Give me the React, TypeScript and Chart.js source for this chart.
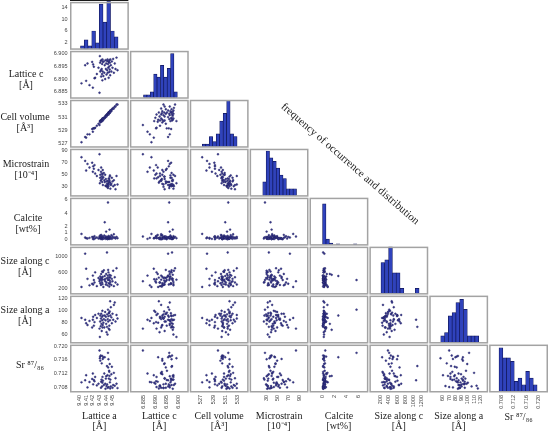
import React, { useEffect, useRef } from 'react';
import { Chart, registerables } from 'chart.js';

Chart.register(...registerables);

// ---- sample values (63 samples) ----
const LATTICE_A = [9.4030, 9.4085, 9.4100, 9.4120, 9.4150, 9.4190, 9.4200, 9.4205, 9.4215, 9.4225, 9.4235, 9.4260, 9.4285,
  9.4300, 9.4305, 9.4310, 9.4312, 9.4318, 9.4322, 9.4325, 9.4330, 9.4333, 9.4338, 9.4340, 9.4343, 9.4345, 9.4348, 9.4351,
  9.4358, 9.4365, 9.4372, 9.4378, 9.4385, 9.4390, 9.4395, 9.4400, 9.4405,
  9.4412, 9.4415, 9.4420, 9.4423, 9.4427, 9.4430, 9.4434, 9.4437, 9.4440, 9.4444, 9.4447, 9.4450, 9.4453, 9.4456, 9.4460, 9.4463,
  9.4470, 9.4478, 9.4485, 9.4495, 9.4505, 9.4515, 9.4528, 9.4540, 9.4555, 9.4570];

const LATTICE_C = [6.8883, 6.8955, 6.8893, 6.8962, 6.8876, 6.8968, 6.8866, 6.8958, 6.8949, 6.8903, 6.8905, 6.8920, 6.8945,
  6.8846, 6.8991, 6.8965, 6.8930, 6.8972, 6.8935, 6.8910, 6.8975, 6.8940, 6.8920, 6.8960, 6.8895, 6.8978, 6.8930, 6.8968,
  6.8912, 6.8970, 6.8925, 6.8955, 6.8900, 6.8975, 6.8940, 6.8962, 6.8918,
  6.8972, 6.8935, 6.8978, 6.8925, 6.8960, 6.8945, 6.8970, 6.8905, 6.8967, 6.8950, 6.8928, 6.8975, 6.8938, 6.8965, 6.8915, 6.8978,
  6.8955, 6.8930, 6.8970, 6.8945, 6.8980, 6.8925, 6.8962, 6.8940, 6.8985, 6.8935];

const CELL_VOLUME = [527.2, 528.0, 527.9, 528.4, 528.4, 529.2, 528.8, 529.3, 529.3, 529.3, 529.4, 529.7, 530.0,
  529.8, 530.4, 530.4, 530.2, 530.5, 530.4, 530.3, 530.6, 530.5, 530.5, 530.7, 530.4, 530.8, 530.6, 530.8,
  530.6, 530.9, 530.8, 531.0, 530.9, 531.2, 531.1, 531.3, 531.1,
  531.4, 531.3, 531.5, 531.4, 531.5, 531.5, 531.7, 531.4, 531.7, 531.7, 531.6, 531.8, 531.7, 531.9, 531.7, 532.0,
  532.0, 531.9, 532.2, 532.2, 532.4, 532.3, 532.6, 532.6, 532.9, 532.9];

const MICROSTRAIN = [79, 73, 57, 68, 62, 70, 55, 64, 60, 66, 52, 48, 58,
  84, 36, 45, 50, 40, 55, 62, 42, 47, 52, 38, 44, 50, 58, 33,
  46, 53, 41, 38, 50, 32, 43, 31, 39,
  35, 30, 33, 40, 28, 36, 31, 44, 34, 38, 43, 40, 47, 49, 37, 27,
  33, 35, 45, 39, 31, 41, 33, 26, 48, 34];

const CALCITE = [0.85, 0.30, 0.20, 0.15, 0.25, 0.40, 0.10, 0.35, 0.05, 0.50, 0.20, 0.30, 0.15,
  0.45, 0.20, 0.60, 0.30, 0.10, 0.25, 0.70, 0.15, 0.40, 0.05, 0.30, 0.20, 0.50, 0.10, 0.35,
  0.25, 0.15, 0.60, 2.60, 0.30, 0.10, 0.45, 1.20, 0.20,
  0.10, 0.40, 0.25, 0.05, 5.60, 0.30, 0.15, 0.55, 0.20, 0.35, 0.10, 1.50, 0.25, 0.40, 0.15, 0.30,
  0.20, 0.65, 0.10, 0.45, 0.25, 0.80, 0.30, 0.15, 0.40, 0.20];

const SIZE_C = [240, 1060, 690, 440, 280, 320, 520, 300, 410, 350, 600, 260, 460,
  380, 420, 500, 330, 450, 290, 560, 400, 470, 350, 620, 430, 310, 490, 610,
  240, 650, 420, 510, 380, 440, 300, 560, 350,
  1090, 460, 280, 520, 410, 660, 600, 430, 330, 480, 250, 540, 400, 310, 470, 360,
  520, 290, 440, 380, 640, 260, 480, 350, 700, 300];

const SIZE_A = [88, 85, 79, 76, 83, 72, 85, 90, 75, 81, 93, 88, 95,
  70, 56, 82, 92, 74, 87, 95, 78, 66, 90, 84, 100, 72, 76, 92,
  80, 86, 72, 92, 98, 84, 90, 78, 64,
  73, 94, 60, 86, 102, 82, 91, 70, 96, 97, 75, 68, 99, 84, 116, 92,
  106, 89, 79, 95, 85, 110, 114, 82, 93, 87];

const SR_RATIO = [0.7094, 0.7100, 0.7115, 0.7079, 0.7095, 0.7104, 0.7120, 0.7088, 0.7101, 0.7097, 0.7110, 0.7085, 0.7090,
  0.7188, 0.7165, 0.7170, 0.7158, 0.7173, 0.7078, 0.7096, 0.7102, 0.7150, 0.7082, 0.7172, 0.7093, 0.7110, 0.7163, 0.7099,
  0.7168, 0.7086, 0.7120, 0.7168, 0.7090, 0.7075, 0.7105, 0.7112, 0.7083,
  0.7142, 0.7088, 0.7115, 0.7078, 0.7181, 0.7138, 0.7162, 0.7080, 0.7105, 0.7128, 0.7125, 0.7113, 0.7148, 0.7094, 0.7076, 0.7102,
  0.7082, 0.7118, 0.7140, 0.7078, 0.7086, 0.7122, 0.7084, 0.7106, 0.7090, 0.7077];

// ---- histograms (diagonal) ----
const HIST_LATTICE_A = [1, 3, 1, 6, 2, 15, 9, 16, 6, 4];
const HIST_LATTICE_C = [1, 1, 2, 8, 7, 11, 7, 10, 15, 2];
const HIST_CELL_VOLUME = [1, 1, 4, 2, 5, 10, 13, 18, 5, 4];
const HIST_MICROSTRAIN = [4, 13, 11, 10, 8, 6, 5, 2, 2, 2];
const HIST_CALCITE = [52, 7, 2, 0, 1, 0, 0, 0, 0, 1];
const HIST_SIZE_C = [12, 13, 18, 8, 8, 2, 0, 0, 0, 2];
const HIST_SIZE_A = [2, 3, 8, 9, 12, 13, 10, 2, 2, 2];
const HIST_SR = [13, 10, 10, 9, 3, 4, 2, 6, 4, 2];
const HIST_BIN_START = [9.4015, 6.88487, 527.22, 24.0, 0, 212, 56.4, 0.70719];
const HIST_BIN_END = [9.4578, 6.89949, 532.95, 85.0, 5.66, 1132, 117.4, 0.71944];
const HIST_COUNT_MAX = [15.95, 16.1, 18.5, 13.8, 60.6, 18.3, 14.27, 14.13];

// ---- axes ----
const AXIS_MIN = [9.3925, 6.8820, 526.3, 12.9, -1.0, 40, 44, 0.70625];
const AXIS_MAX = [9.4673, 6.9014, 533.7, 94.0, 6.4, 1245, 126.5, 0.7207];
const X_TICKS = [
  [9.40, 9.41, 9.42, 9.43, 9.44, 9.45],
  [6.885, 6.890, 6.895, 6.900],
  [527, 529, 531, 533],
  [30, 50, 70, 90],
  [0, 2, 4, 6],
  [200, 400, 600, 800, 1000, 1200],
  [60, 70, 80, 90, 100, 110, 120],
  [0.708, 0.712, 0.716, 0.720],
];
const Y_TICKS = [
  [2, 6, 10, 14],
  [6.885, 6.890, 6.895, 6.900],
  [527, 529, 531, 533],
  [30, 50, 70, 90],
  [0, 1, 2, 4, 6],
  [200, 600, 1000],
  [60, 80, 100, 120],
  [0.708, 0.712, 0.716, 0.720],
];
const TICK_DECIMALS = [2, 3, 0, 0, 0, 0, 0, 3];
const VAR_LABELS = [
  ['Lattice a', '[Å]'],
  ['Lattice c', '[Å]'],
  ['Cell volume', '[Å³]'],
  ['Microstrain', '[10⁻⁴]'],
  ['Calcite', '[wt%]'],
  ['Size along c', '[Å]'],
  ['Size along a', '[Å]'],
  ['Sr ⁸⁷/₈₆'],
];
const DIAGONAL_TITLE = 'frequency of occurrence and distribution';

// layout constants (not data)
const ROW_LABEL_Y = [0, 74, 117, 164, 218, 261, 310, 365];
const ROW_LABEL_X = [0, 26, 25, 26, 28, 25, 25, 30];

export default function App() {
  const ref = useRef<HTMLCanvasElement>(null);

  useEffect(() => {
    const N = 8;
    const vars = [LATTICE_A, LATTICE_C, CELL_VOLUME, MICROSTRAIN, CALCITE, SIZE_C, SIZE_A, SR_RATIO];
    const hists = [HIST_LATTICE_A, HIST_LATTICE_C, HIST_CELL_VOLUME, HIST_MICROSTRAIN, HIST_CALCITE, HIST_SIZE_C, HIST_SIZE_A, HIST_SR];
    const tickFont = { family: 'Liberation Sans', size: 5.5 };

    const scales: any = {};
    for (let j = 0; j < N; j++) {
      scales['x' + j] = {
        type: 'linear',
        position: 'bottom',
        stack: 'cols',
        stackWeight: 1,
        weight: j,
        min: AXIS_MIN[j],
        max: AXIS_MAX[j],
        afterBuildTicks: (s: any) => { s.ticks = X_TICKS[j].map((v) => ({ value: v })); },
        afterFit: (s: any) => { s.height = 39; s.paddingLeft = 0; s.paddingRight = 0; },
        ticks: {
          autoSkip: false, minRotation: 90, maxRotation: 90, padding: 2,
          font: tickFont, color: '#444',
          callback: (v: any) => Number(v).toFixed(TICK_DECIMALS[j]),
        },
        grid: { display: false, drawTicks: false },
        border: { display: false },
        title: {
          display: true, text: VAR_LABELS[j],
          font: { family: 'Liberation Serif', size: 10, lineHeight: 1.05 },
          color: '#222', padding: { top: 0, bottom: j === 7 ? 9 : 0 },
        },
      };
    }
    for (let i = 0; i < N; i++) {
      scales['y' + i] = {
        type: 'linear',
        position: 'left',
        stack: 'rows',
        stackWeight: 1,
        weight: 100 - i,
        min: i === 0 ? -0.031 * HIST_COUNT_MAX[0] : AXIS_MIN[i],
        max: i === 0 ? HIST_COUNT_MAX[0] : AXIS_MAX[i],
        afterBuildTicks: (s: any) => { s.ticks = Y_TICKS[i].map((v) => ({ value: v })); },
        afterFit: (s: any) => { s.width = 69.5; s.paddingTop = 0; s.paddingBottom = 0; },
        ticks: {
          autoSkip: false, padding: 2, font: tickFont, color: '#444',
          callback: (v: any) => (i === 0 ? String(v) : Number(v).toFixed(TICK_DECIMALS[i])),
        },
        grid: { display: false, drawTicks: false },
        border: { display: false },
      };
      scales['h' + i] = {
        type: 'linear',
        position: 'left',
        stack: 'rowsH',
        stackWeight: 1,
        weight: 50 - i,
        display: false,
        min: -0.031 * HIST_COUNT_MAX[i],
        max: HIST_COUNT_MAX[i],
      };
    }

    const datasets: any[] = [];
    for (let i = 1; i < N; i++) {
      for (let j = 0; j < i; j++) {
        datasets.push({
          type: 'scatter',
          data: vars[j].map((xv, k) => ({ x: xv, y: vars[i][k] })),
          xAxisID: 'x' + j,
          yAxisID: 'y' + i,
          pointRadius: 0.95,
          pointBorderWidth: 0.4,
          pointHoverRadius: 0.95,
          backgroundColor: '#3c3c92',
          borderColor: '#1a1a58',
        });
      }
    }
    for (let i = 0; i < N; i++) {
      const w = (HIST_BIN_END[i] - HIST_BIN_START[i]) / hists[i].length;
      datasets.push({
        type: 'bar',
        data: hists[i].map((c, k) => ({ x: HIST_BIN_START[i] + (k + 0.5) * w, y: c })),
        xAxisID: 'x' + i,
        yAxisID: i === 0 ? 'y0' : 'h' + i,
        barPercentage: 1,
        categoryPercentage: 1,
        grouped: false,
        backgroundColor: '#2f42bc',
        borderColor: '#10165a',
        borderWidth: 0.7,
      });
    }

    const decor = {
      id: 'decor',
      afterDatasetsDraw(chart: any) {
        const ctx = chart.ctx;
        ctx.save();
        ctx.strokeStyle = '#a3a3a3';
        ctx.lineWidth = 1.5;
        for (let i = 0; i < N; i++) {
          for (let j = 0; j <= i; j++) {
            const xs = chart.scales['x' + j];
            const ys = chart.scales['y' + i];
            ctx.strokeRect(xs.left + 1.25, ys.top + 1.25, xs.width - 2.5, ys.height - 2.5);
          }
        }
        const x0 = chart.scales['x0'];
        ctx.strokeStyle = '#1a1a1a';
        ctx.lineWidth = 1;
        ctx.beginPath();
        ctx.moveTo(x0.left + 0.5, 0.5);
        ctx.lineTo(x0.right - 1, 0.5);
        ctx.stroke();
        ctx.restore();
      },
      afterDraw(chart: any) {
        const ctx = chart.ctx;
        ctx.save();
        ctx.fillStyle = '#222';
        ctx.font = '10px "Liberation Serif"';
        ctx.textAlign = 'center';
        ctx.textBaseline = 'middle';
        for (let i = 1; i < N; i++) {
          const lines = VAR_LABELS[i];
          lines.forEach((t, k) => ctx.fillText(t, ROW_LABEL_X[i], ROW_LABEL_Y[i] + k * 11));
        }
        ctx.translate(350, 164);
        ctx.rotate((41 * Math.PI) / 180);
        ctx.font = '11px "Liberation Serif"';
        ctx.fillText(DIAGONAL_TITLE, 0, 0);
        ctx.restore();
      },
    };

    const chart = new Chart(ref.current as HTMLCanvasElement, {
      type: 'scatter',
      data: { datasets },
      options: {
        responsive: false,
        devicePixelRatio: 1,
        animation: false,
        events: [],
        layout: { padding: { left: 0, top: 0, right: 1.5, bottom: 0 } },
        plugins: { legend: { display: false }, tooltip: { enabled: false }, title: { display: false } },
        scales,
      } as any,
      plugins: [decor],
    });
    return () => chart.destroy();
  }, []);

  return (
    <canvas
      ref={ref}
      width={550}
      height={432}
      style={{ position: 'fixed', left: 0, top: 0, width: 550, height: 432, background: '#fff' }}
    />
  );
}
